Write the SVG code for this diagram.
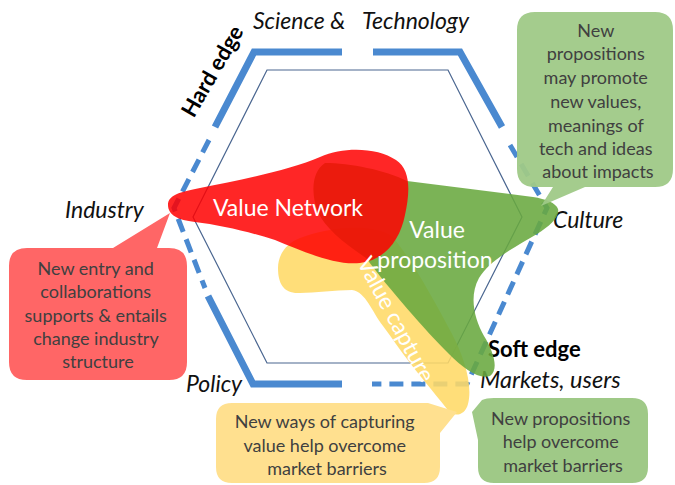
<svg xmlns="http://www.w3.org/2000/svg" width="675" height="485" viewBox="0 0 675 485">
  <style>
    .edge { fill: none; stroke: #4a89d0; stroke-width: 7; stroke-linejoin: miter; }
    .edge-dash { fill: none; stroke: #4a89d0; stroke-width: 5; stroke-dasharray: 14 8; }
    .inner { fill: none; stroke: #4a6690; stroke-width: 1.2; }
    .axis { font-family: Lato, "Liberation Sans", sans-serif; font-style: italic; font-size: 23px; fill: #111; }
    .edge-label { font-family: Lato, "Liberation Sans", sans-serif; font-weight: bold; font-size: 22px; fill: #000; }
    .blob-label { font-family: Lato, "Liberation Sans", sans-serif; font-size: 23px; fill: #fff; text-anchor: middle; }
    .note { font-family: Lato, "Liberation Sans", sans-serif; font-size: 18px; fill: #404040; text-anchor: middle; }
  </style>

  <!-- inner hexagon -->
  <g id="inner-hexagon">
    <polygon class="inner" points="267,70 448,70 522,217 448,363 267,363 193,217"/>
  </g>

  <!-- outer hexagon: hard edges solid, soft edges dashed -->
  <g id="outer-hexagon">
    <polyline class="edge" points="342,52 254,52 215,127"/>
    <polyline class="edge" points="373,52 460,52 502,127"/>
    <polyline class="edge" points="208,296 253,384 342,384"/>
    <polyline class="edge-dash" points="209,140 174,208 205,288"/>
    <polyline class="edge-dash" points="510,145 547,208 467,384 372,384"/>
  </g>

  <!-- axis labels -->
  <g id="labels">
    <text class="axis" x="253" y="29">Science &amp;</text>
    <text class="axis" x="362" y="29">Technology</text>
    <text class="axis" x="65" y="218">Industry</text>
    <text class="axis" x="553" y="228">Culture</text>
    <text class="axis" x="186" y="392">Policy</text>
    <text class="axis" x="480" y="388" style="font-size:23.5px">Markets, users</text>
    <text class="edge-label" x="488" y="357">Soft edge</text>
    <text class="edge-label" transform="translate(219,75) rotate(-60)" text-anchor="middle">Hard edge</text>
  </g>

  <!-- value capture -->
  <g id="value-capture">
    <path fill="#ffd966" fill-opacity="0.88" d="M 300,238 C 325,228 370,222 392,236 C 412,260 434,300 451,332 C 464,356 473,385 468,404 C 465,416 453,418 447,409 C 432,390 420,376 410,363 C 400,350 392,338 383,326 C 372,312 366,292 352,290 C 335,290 315,293 300,293 C 284,294 278,284 278,268 C 278,254 287,243 300,238 Z"/>
  </g>

  <!-- value proposition -->
  <g id="value-proposition">
    <path fill="#69a93f" fill-opacity="0.88" d="M 325,163 C 350,163 385,170 407,181 L 533,197 C 546,199 556,203 558,209 C 560,217 550,226 537,234 C 515,247 490,260 479,278 C 469,296 474,318 484,336 C 494,352 499,370 490,376 C 479,380 463,368 449,354 C 425,330 390,290 366,258 C 345,244 325,228 318,212 C 311,195 311,172 325,163 Z"/>
  </g>

  <!-- value network -->
  <g id="value-network">
    <path fill="#ff0000" fill-opacity="0.85" d="M 168,205 C 168,195 180,192 200,188 C 240,180 290,170 320,157 C 345,146 378,148 396,160 C 411,170 410,192 405,215 C 400,240 385,260 360,263 C 335,266 300,250 275,240 C 250,232 220,225 195,222 C 178,220 168,215 168,205 Z"/>
  </g>

  <!-- blob names, above all three blobs -->
  <g id="blob-labels">
    <text class="blob-label" x="288" y="216">Value Network</text>
    <text class="blob-label" x="437" y="238">Value</text>
    <text class="blob-label" x="435" y="268">proposition</text>
    <text class="blob-label" transform="translate(389,323) rotate(62)">Value capture</text>
  </g>

  <!-- callouts -->
  <g id="callout-industry">
    <path fill="#ff6666" d="M 27,248 L 113,248 L 170,213 L 157,248 L 169,248 Q 187,248 187,266 L 187,362 Q 187,380 169,380 L 27,380 Q 9,380 9,362 L 9,266 Q 9,248 27,248 Z"/>
    <text class="note">
      <tspan x="98" y="275">New entry and</tspan>
      <tspan x="98" y="298">collaborations</tspan>
      <tspan x="98" y="322">supports &amp; entails</tspan>
      <tspan x="98" y="345">change industry</tspan>
      <tspan x="98" y="368">structure</tspan>
    </text>
  </g>

  <g id="callout-culture">
    <path fill="#9fc987" fill-opacity="0.95" d="M 535,12 L 655,12 Q 673,12 673,30 L 673,169 Q 673,187 655,187 L 585,187 L 541,206 L 553,187 L 535,187 Q 517,187 517,169 L 517,30 Q 517,12 535,12 Z"/>
    <text class="note">
      <tspan x="598" y="37">New</tspan>
      <tspan x="598" y="60">propositions</tspan>
      <tspan x="598" y="84">may promote</tspan>
      <tspan x="598" y="108">new values,</tspan>
      <tspan x="598" y="132">meanings of</tspan>
      <tspan x="598" y="155">tech and ideas</tspan>
      <tspan x="598" y="178">about impacts</tspan>
    </text>
  </g>

  <g id="callout-capture">
    <path fill="#ffe08f" d="M 232,403 L 428,403 L 457,412 L 440,433 L 440,467 Q 440,483 424,483 L 232,483 Q 216,483 216,467 L 216,419 Q 216,403 232,403 Z"/>
    <text class="note">
      <tspan x="327" y="428">New ways of capturing</tspan>
      <tspan x="327" y="452">value help overcome</tspan>
      <tspan x="327" y="475">market barriers</tspan>
    </text>
  </g>

  <g id="callout-markets">
    <path fill="#9fc987" d="M 494,398 L 632,398 Q 648,398 648,414 L 648,467 Q 648,483 632,483 L 494,483 Q 478,483 478,467 L 478,440 L 472,412 L 482,400 Q 486,398 494,398 Z"/>
    <text class="note">
      <tspan x="563" y="425">New propositions</tspan>
      <tspan x="563" y="448">help overcome</tspan>
      <tspan x="563" y="472">market barriers</tspan>
    </text>
  </g>
</svg>
